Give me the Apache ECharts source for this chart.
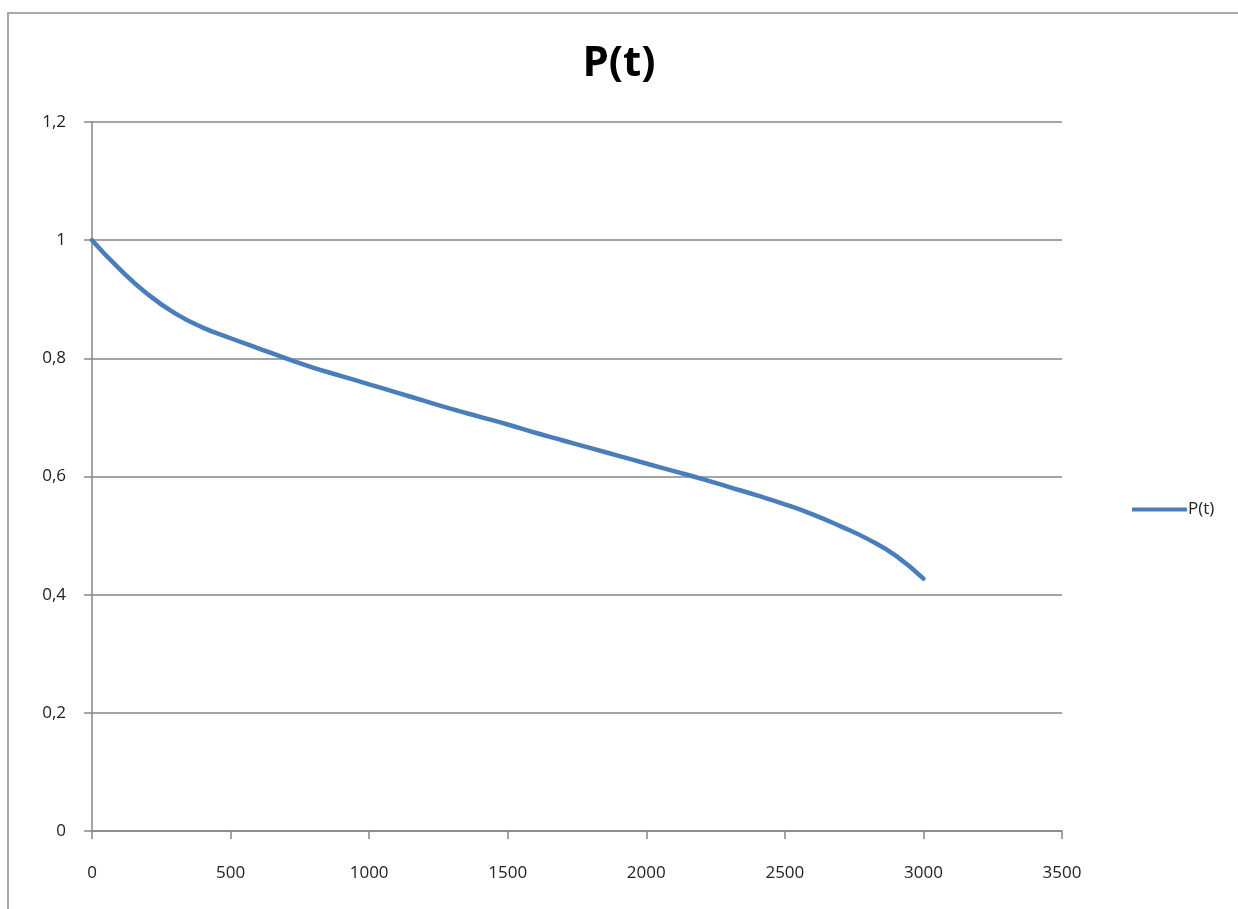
<!DOCTYPE html>
<html>
<head>
<meta charset="utf-8">
<script src="https://cdn.jsdelivr.net/npm/echarts@6/dist/echarts.min.js"></script>
<style>
  html, body { margin: 0; padding: 0; background: #fff; }
  #chart { width: 1238px; height: 909px; }
</style>
</head>
<body>
<div id="chart"></div>
<script>
// Time points t and the probability P(t)
const tValues = [0, 100, 200, 300, 400, 500, 600, 700, 800, 900, 1000,
  1100, 1200, 1300, 1400, 1500, 1600, 1700, 1800, 1900, 2000,
  2100, 2200, 2300, 2400, 2500, 2600, 2700, 2800, 2900, 3000];
const pValues = [1.0, 0.951, 0.909, 0.876, 0.852, 0.834, 0.817, 0.800, 0.784, 0.770, 0.756,
  0.742, 0.728, 0.714, 0.701, 0.688, 0.674, 0.661, 0.648, 0.635, 0.622,
  0.609, 0.596, 0.582, 0.568, 0.553, 0.536, 0.516, 0.494, 0.466, 0.427];
const seriesName = 'P(t)';

const fontFamily = '"Open Sans", "Liberation Sans", sans-serif';
const gray = '#868686';

const chart = echarts.init(document.getElementById('chart'), null, { renderer: 'canvas' });

chart.setOption({
  animation: false,
  backgroundColor: '#fff',
  graphic: [{
    type: 'rect',
    shape: { x: 8, y: 13, width: 1400, height: 1100 },
    style: { fill: 'none', stroke: '#a8a8a8', lineWidth: 2 },
    silent: true
  }],
  title: {
    text: seriesName,
    left: 'center',
    top: 38,
    textStyle: { fontFamily, fontSize: 42, fontWeight: 'bold', color: '#000' }
  },
  legend: {
    left: 1127,
    top: 496,
    icon: 'rect',
    itemWidth: 55,
    itemHeight: 4,
    itemGap: 0,
    textStyle: { fontFamily, fontSize: 17, color: '#222', padding: [0, 0, 0, -4] },
    data: [seriesName]
  },
  grid: { left: 92, right: 176, top: 122, bottom: 78, containLabel: false },
  xAxis: {
    type: 'value',
    min: 0,
    max: 3500,
    interval: 500,
    axisLine: { show: true, lineStyle: { color: gray, width: 1.5 } },
    axisTick: { show: true, inside: false, length: 8, lineStyle: { color: gray, width: 1.5 } },
    axisLabel: {
      margin: 34,
      fontFamily,
      fontSize: 17,
      color: '#222',
      formatter: v => String(v)
    },
    splitLine: { show: false }
  },
  yAxis: {
    type: 'value',
    min: 0,
    max: 1.2,
    interval: 0.2,
    axisLine: { show: true, lineStyle: { color: gray, width: 1.5 } },
    axisTick: { show: true, inside: false, length: 8, lineStyle: { color: gray, width: 1.5 } },
    axisLabel: {
      margin: 26,
      fontFamily,
      fontSize: 17,
      color: '#222',
      formatter: v => String(Math.round(v * 10) / 10).replace('.', ',')
    },
    splitLine: { show: true, lineStyle: { color: gray, width: 1.5 } }
  },
  series: [{
    name: seriesName,
    type: 'line',
    data: tValues.map((t, i) => [t, pValues[i]]),
    smooth: true,
    showSymbol: false,
    lineStyle: { color: '#4a7ebb', width: 4.5, cap: 'round' },
    itemStyle: { color: '#4a7ebb' }
  }]
});
</script>
</body>
</html>
